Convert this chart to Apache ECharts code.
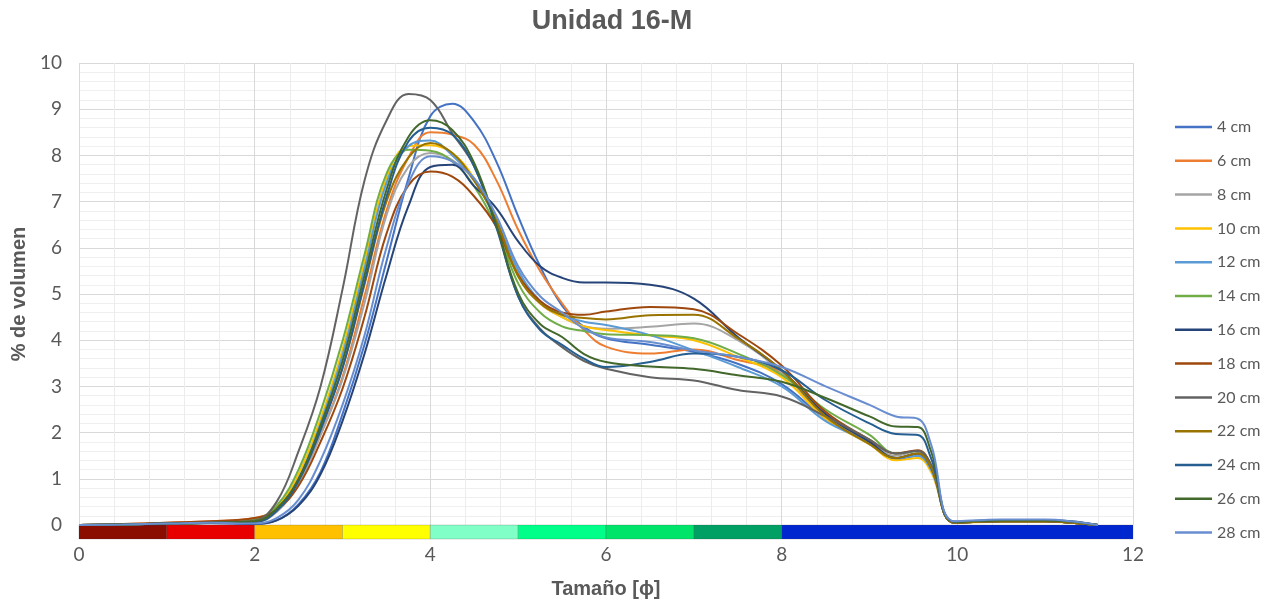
<!DOCTYPE html>
<html>
<head>
<meta charset="utf-8">
<script src="https://cdn.jsdelivr.net/npm/echarts@6/dist/echarts.min.js"></script>
<style>
  html, body { margin: 0; padding: 0; background: #ffffff; }
  #chart { width: 1277px; height: 601px; }
</style>
</head>
<body>
<div id="chart"></div>
<script>
// Grain size (phi) sample positions shared by every curve
const phi = [0, 0.5, 1, 1.5, 2, 2.25, 2.5, 2.75, 3, 3.25, 3.5, 3.75, 4, 4.25, 4.5, 4.75,
             5, 5.25, 5.5, 5.75, 6, 6.5, 7, 7.5, 8, 8.5, 9, 9.3, 9.55, 9.7, 9.97, 10.5,
             11, 11.3, 11.6];

// % volume per depth
const v4  = [0,0.01,0.03,0.05, 0.03,0.1,0.45,1.15, 2.4,3.9,5.7,7.5, 8.85,9.12,8.73,7.87, 6.68,5.6,4.75,4.29, 4.04,3.9,3.75,3.49, 3.05,2.3,1.75,1.42, 1.5,1.2,0.06,0.1, 0.1,0.07,0];
const v6  = [0,0.02,0.05,0.08, 0.15,0.35,0.95,1.95, 3.2,4.95,6.8,7.95, 8.5,8.45,8.23,7.47, 6.39,5.5,4.8,4.22, 3.86,3.71,3.8,3.57, 3.3,2.4,1.8,1.45, 1.55,1.25,0.05,0.08, 0.08,0.05,0];
const v8  = [0,0.01,0.03,0.05, 0.06,0.28,0.9,1.95, 3.15,4.8,6.7,7.75, 8.05,7.9,7.45,6.6, 5.45,4.8,4.5,4.3, 4.25,4.29,4.36,4.0, 3.3,2.35,1.8,1.5, 1.6,1.3,0.05,0.08, 0.08,0.05,0];
const v10 = [0,0.01,0.03,0.05, 0.1,0.38,1.1,2.3, 3.8,5.7,7.5,8.2, 8.22,8.05,7.5,6.6, 5.41,4.8,4.5,4.3, 4.22,4.1,4.0,3.64, 3.2,2.3,1.75,1.4, 1.45,1.15,0.05,0.07, 0.07,0.05,0];
const v12 = [0,0.01,0.03,0.05, 0.08,0.33,1.0,2.2, 3.68,5.55,7.4,8.2, 8.32,8.0,7.47,6.6, 5.52,4.85,4.55,4.4, 4.33,4.11,3.78,3.42, 3.0,2.25,1.8,1.45, 1.5,1.2,0.06,0.1, 0.1,0.07,0];
const v14 = [0,0.01,0.03,0.05, 0.12,0.42,1.2,2.45, 3.98,5.85,7.6,8.12, 8.1,7.87,7.33,6.46, 5.23,4.6,4.3,4.2, 4.13,4.11,4.04,3.71, 3.25,2.5,1.95,1.55, 1.6,1.3,0.05,0.08, 0.08,0.05,0];
const v16 = [0,0.01,0.02,0.04, 0.02,0.1,0.42,1.1, 2.25,3.7,5.4,6.9, 7.75,7.8,7.33,6.86, 6.14,5.6,5.35,5.25, 5.25,5.2,4.9,4.07, 3.35,2.4,1.8,1.45, 1.55,1.25,0.05,0.08, 0.08,0.05,0];
const v18 = [0,0.02,0.05,0.08, 0.15,0.33,0.85,1.8, 2.95,4.5,6.3,7.35, 7.65,7.54,7.11,6.46, 5.41,4.85,4.6,4.55, 4.62,4.72,4.67,4.14, 3.45,2.45,1.85,1.55, 1.62,1.3,0.05,0.08, 0.08,0.05,0];
const v20 = [0,0.01,0.03,0.05, 0.1,0.5,1.6,3.0, 5.1,7.45,8.75,9.33, 9.2,8.48,7.76,6.5, 4.95,4.25,3.85,3.55, 3.38,3.2,3.13,2.92, 2.78,2.35,1.85,1.55, 1.6,1.3,0.05,0.08, 0.08,0.05,0];
const v22 = [0,0.01,0.03,0.05, 0.08,0.33,0.98,2.1, 3.4,5.2,7.0,7.95, 8.27,8.05,7.45,6.6, 5.38,4.8,4.55,4.48, 4.45,4.54,4.55,4.04, 3.35,2.35,1.75,1.45, 1.55,1.25,0.05,0.08, 0.08,0.05,0];
const v24 = [0,0.01,0.03,0.05, 0.06,0.3,0.95,2.05, 3.4,5.25,7.1,8.3, 8.6,8.45,7.76,6.45, 4.95,4.22,3.9,3.6, 3.42,3.53,3.71,3.64, 3.35,2.7,2.2,1.97, 1.95,1.45,0.07,0.11, 0.11,0.08,0];
const v26 = [0,0.01,0.03,0.05, 0.08,0.35,1.0,2.15, 3.55,5.4,7.25,8.4, 8.76,8.55,7.83,6.5, 5.02,4.35,4.07,3.7, 3.53,3.43,3.38,3.24, 3.1,2.75,2.35,2.13, 2.12,1.6,0.07,0.1, 0.1,0.07,0];
const v28 = [0,0.01,0.03,0.05, 0.03,0.15,0.55,1.4, 2.6,4.1,6.0,7.4, 7.98,7.87,7.5,6.7, 5.6,4.95,4.6,4.25, 4.06,3.96,3.78,3.64, 3.42,3.0,2.6,2.35, 2.3,1.75,0.08,0.12, 0.12,0.08,0];

const seriesNames  = ['4 cm', '6 cm', '8 cm', '10 cm', '12 cm', '14 cm', '16 cm',
                      '18 cm', '20 cm', '22 cm', '24 cm', '26 cm', '28 cm'];
const seriesValues = [v4, v6, v8, v10, v12, v14, v16, v18, v20, v22, v24, v26, v28];
const seriesColors = ['#4472C4', '#ED7D31', '#A5A5A5', '#FFC000', '#5B9BD5', '#70AD47', '#264478',
                      '#9E480E', '#636363', '#997300', '#255E91', '#43682B', '#698ED0'];

// Grain-size class bands drawn under the zero line
const bandStart  = [0, 1, 2, 3, 4, 5, 6, 7, 8];
const bandEnd    = [1, 2, 3, 4, 5, 6, 7, 8, 12];
const bandColors = ['#8B0C00', '#E80000', '#FFC000', '#FFFF00', '#80FFC6', '#00FF88',
                    '#00E46A', '#00A064', '#0026CF'];

const textGray = '#595959';
const labelFont = 'Lato, "Open Sans", sans-serif';
const titleFont = '"Liberation Sans", Arial, sans-serif';

const lineSeries = seriesNames.map((name, i) => ({
  name: name,
  type: 'line',
  xAxisIndex: 0,
  yAxisIndex: 0,
  data: phi.map((x, k) => [x, seriesValues[i][k]]),
  smooth: 0.4,
  symbol: 'none',
  lineStyle: { width: 2, color: seriesColors[i] },
  itemStyle: { color: seriesColors[i] },
  emphasis: { disabled: true }
}));

const bandSeries = {
  type: 'custom',
  xAxisIndex: 1,
  yAxisIndex: 1,
  silent: true,
  data: bandStart.map((s, i) => [s, bandEnd[i], i]),
  renderItem: function (params, api) {
    const p0 = api.coord([api.value(0), 1]);
    const p1 = api.coord([api.value(1), 0]);
    return {
      type: 'rect',
      shape: { x: p0[0], y: p0[1], width: p1[0] - p0[0], height: p1[1] - p0[1] },
      style: { fill: bandColors[api.value(2)], stroke: 'rgba(60,60,60,0.35)', lineWidth: 0.6 }
    };
  }
};

const chart = echarts.init(document.getElementById('chart'));
chart.setOption({
  animation: false,
  backgroundColor: '#ffffff',
  graphic: [{
    type: 'text',
    x: 612, y: 22,
    style: {
      text: 'Unidad 16-M',
      fontFamily: titleFont, fontWeight: 'bold', fontSize: 27,
      fill: textGray, align: 'center', verticalAlign: 'middle'
    }
  }],
  legend: {
    orient: 'vertical',
    left: 1170,
    top: 114,
    icon: 'rect',
    itemWidth: 37,
    itemHeight: 2.5,
    itemGap: 17.8,
    data: seriesNames,
    textStyle: { fontFamily: labelFont, fontSize: 16, color: textGray }
  },
  grid: [
    { left: 79, width: 1054, top: 63, height: 462 },
    { left: 79, width: 1054, top: 525, height: 14 }
  ],
  xAxis: [
    {
      type: 'value', gridIndex: 0, min: 0, max: 12, interval: 2,
      axisLine: { show: false }, axisTick: { show: false }, axisLabel: { show: false },
      splitLine: { show: true, lineStyle: { color: '#d9d9d9', width: 1 } },
      minorTick: { show: false, splitNumber: 5 },
      minorSplitLine: { show: true, lineStyle: { color: '#ececec', width: 1 } }
    },
    {
      type: 'value', gridIndex: 1, min: 0, max: 12, interval: 2,
      axisLine: { show: false }, axisTick: { show: false },
      splitLine: { show: false },
      axisLabel: { fontFamily: labelFont, fontSize: 19, color: textGray, margin: 6 },
      name: 'Tamaño [ϕ]', nameLocation: 'middle', nameGap: 40,
      nameTextStyle: { fontFamily: titleFont, fontWeight: 'bold', fontSize: 20, color: textGray }
    }
  ],
  yAxis: [
    {
      type: 'value', gridIndex: 0, min: 0, max: 10, interval: 1,
      axisLine: { show: false }, axisTick: { show: false },
      axisLabel: { fontFamily: labelFont, fontSize: 19, color: textGray, margin: 17 },
      splitLine: { show: true, lineStyle: { color: '#d9d9d9', width: 1 } },
      minorTick: { show: false, splitNumber: 5 },
      minorSplitLine: { show: true, lineStyle: { color: '#efefef', width: 1 } },
      name: '% de volumen', nameLocation: 'middle', nameGap: 46, nameRotate: 90,
      nameTextStyle: { fontFamily: titleFont, fontWeight: 'bold', fontSize: 20, color: textGray }
    },
    { type: 'value', gridIndex: 1, min: 0, max: 1, show: false }
  ],
  series: [bandSeries].concat(lineSeries)
});
</script>
</body>
</html>
